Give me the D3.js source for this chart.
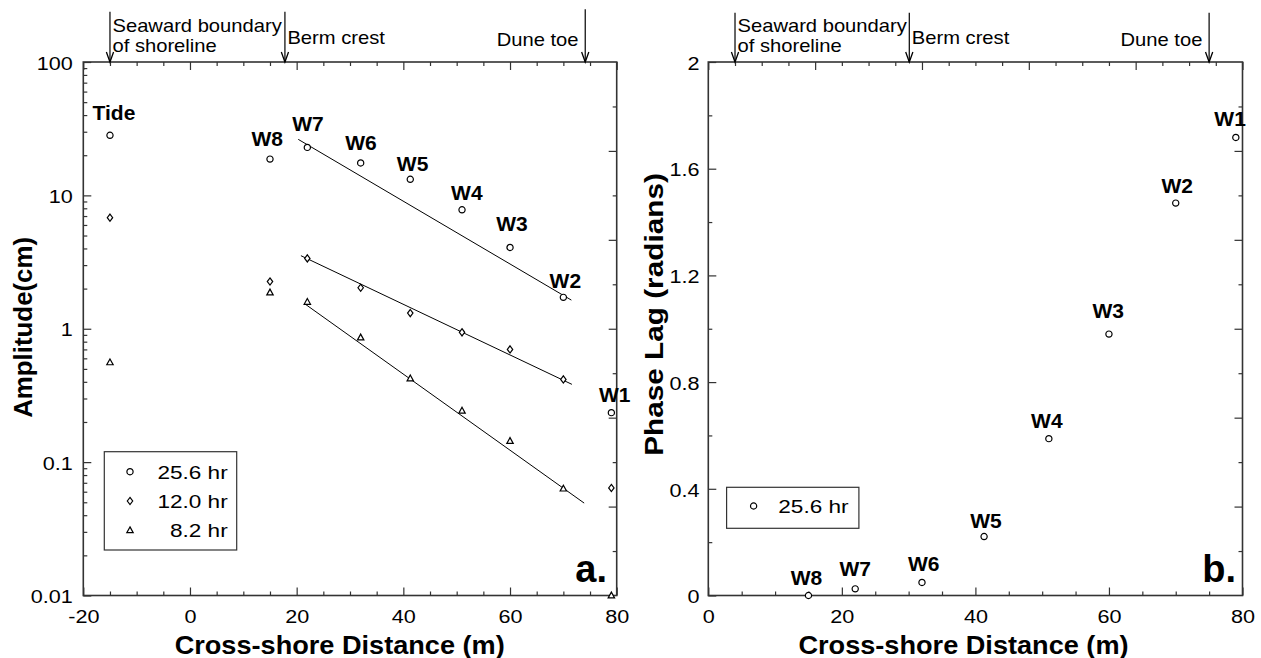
<!DOCTYPE html>
<html>
<head>
<meta charset="utf-8">
<script src="https://cdn.jsdelivr.net/npm/d3@7"></script>
<style>
  html, body { margin: 0; padding: 0; background: #fff; }
  svg { display: block; font-family: "Liberation Sans", Arial, Helvetica, sans-serif; }
</style>
</head>
<body>
<svg id="chart" width="1261" height="658"></svg>
<script>
// ---- Panel a: amplitude of the three tidal constituents at each well ----
const stations = ["Tide", "W8", "W7", "W6", "W5", "W4", "W3", "W2", "W1"];
const distance = [-15, 15, 22, 32, 41.3, 51, 60, 70, 79];
const amp256 = [28.2, 18.7, 22.9, 17.5, 13.2, 7.8, 4.07, 1.72, 0.235];
const amp120 = [6.8, 2.26, 3.37, 2.03, 1.31, 0.94, 0.70, 0.417, 0.064];
const amp82  = [0.56, 1.87, 1.59, 0.86, 0.424, 0.243, 0.144, 0.0633, 0.010];

// exponential-decay fits, as [distance, amplitude] end points
const fit256 = [[20.3, 26.3], [71.5, 1.64]];
const fit120 = [[20.8, 3.53], [71.6, 0.383]];
const fit82  = [[21.4, 1.55], [73.9, 0.0493]];

// ---- Panel b: phase lag of the 25.6 hr constituent ----
const phaseStations = ["W8", "W7", "W6", "W5", "W4", "W3", "W2", "W1"];
const phaseDistance = [15, 22, 32, 41.3, 51, 60, 70, 79];
const phaseLag = [0, 0.025, 0.049, 0.221, 0.588, 0.980, 1.471, 1.717];

// ---- tick labels and annotations ----
const ampTicks = [0.01, 0.1, 1, 10, 100];
const ampTickLabels = ["0.01", "0.1", "1", "10", "100"];
const distTicksA = [-20, 0, 20, 40, 60, 80];
const distTickLabelsA = ["-20", "0", "20", "40", "60", "80"];
const distTicksB = [0, 20, 40, 60, 80];
const distTickLabelsB = ["0", "20", "40", "60", "80"];
const phaseTicks = [0, 0.4, 0.8, 1.2, 1.6, 2];
const phaseTickLabels = ["0", "0.4", "0.8", "1.2", "1.6", "2"];
const legendLabels = ["25.6 hr", "12.0 hr", "8.2 hr"];
const landmarkNames = [["Seaward boundary", "of shoreline"], ["Berm crest"], ["Dune toe"]];
const landmarkA = [-15, 17.8, 74.1];
const landmarkB = [4, 30.1, 75];

// ---- layout ----
const A = { left: 83.3, right: 616.7, top: 62, bottom: 595.5 };
const B = { left: 708.3, right: 1242.5, top: 62, bottom: 595.5 };
// station label offsets (px) from each marker
const labelOffA = [[4, -15.4], [-2.7, -13], [0.6, -16.6], [0.3, -13.4], [2.3, -8.3], [4.8, -10], [1.9, -16.7], [2, -9.4], [3.3, -11]];
const labelOffB = [[-2, -11], [0, -12.6], [1.7, -11.3], [1.9, -8.7], [-2, -10.7], [-0.8, -16], [1.5, -10.6], [-5.7, -11]];

const INK = "#000";
const AXIS = "#333";

const svg = d3.select("#chart");

const xA = d3.scaleLinear([-20, 80], [A.left, A.right]);
const yA = d3.scaleLog([0.01, 100], [A.bottom, A.top]);
const xB = d3.scaleLinear([0, 80], [B.left, B.right]);
const yB = d3.scaleLinear([0, 2], [B.bottom, B.top]);

// widen text horizontally to the typeface proportions used in the figure
function stretch(sel, k) {
  sel.each(function () {
    const w = this.getComputedTextLength();
    this.setAttribute("textLength", (w * k).toFixed(2));
    this.setAttribute("lengthAdjust", "spacingAndGlyphs");
  });
}

const circlePath = d3.symbol(d3.symbolCircle, Math.PI * 3.1 * 3.1)();
const diamondPath = "M0,-3.6L2.7,0L0,3.6L-2.7,0Z";
const trianglePath = "M0,-3.4L3.2,2.4L-3.2,2.4Z";

function styleTicks(g) {
  g.select(".domain").remove();
  g.selectAll(".tick line").attr("stroke", AXIS).attr("stroke-width", 1.2);
}

function tickAxis(axis, tx, ty) {
  const g = svg.append("g").attr("transform", `translate(${tx},${ty})`).call(axis);
  styleTicks(g);
  return g;
}

// ---------- frame + ticks for one panel ----------
function drawFrame(P, x, y, opts) {
  // bottom: minor every 5, major every 20 with labels
  const bottomMinor = d3.range(x.domain()[0], x.domain()[1] + 0.1, 5).filter(v => v % 20 !== 0);
  tickAxis(d3.axisBottom(x).tickValues(bottomMinor).tickSize(-4).tickFormat(""), 0, P.bottom);
  const bMaj = tickAxis(d3.axisBottom(x).tickValues(opts.xTicks)
      .tickFormat((d, i) => opts.xLabels[i]).tickSize(-8).tickPadding(15), 0, P.bottom);
  bMaj.selectAll("text").attr("font-size", 18).attr("fill", INK)
      .attr("font-family", "Liberation Sans, Arial, sans-serif").call(stretch, 1.2);

  // top: ticks only
  const topMinor = d3.range(x.domain()[0], x.domain()[1] + 0.1, opts.topStep).filter(v => v % opts.topMajor !== 0);
  const topMajor = d3.range(x.domain()[0], x.domain()[1] + 0.1, opts.topStep).filter(v => v % opts.topMajor === 0);
  tickAxis(d3.axisTop(x).tickValues(topMinor).tickSize(-4).tickFormat(""), 0, P.top);
  tickAxis(d3.axisTop(x).tickValues(topMajor).tickSize(-8).tickFormat(""), 0, P.top);

  // left: minor + labelled majors
  tickAxis(d3.axisLeft(y).tickValues(opts.yMinor).tickSize(-4).tickFormat(""), P.left, 0);
  const lMaj = tickAxis(d3.axisLeft(y).tickValues(opts.yTicks)
      .tickFormat((d, i) => opts.yLabels[i]).tickSize(-8).tickPadding(opts.yPad), P.left, 0);
  lMaj.selectAll("text").attr("font-size", 18).attr("fill", INK).attr("dy", "0.4em")
      .attr("font-family", "Liberation Sans, Arial, sans-serif").call(stretch, 1.2);

  // right: twelve even divisions, alternating short/long
  const r = d3.scaleLinear([0, 12], [P.bottom, P.top]);
  tickAxis(d3.axisRight(r).tickValues([1, 3, 5, 7, 9, 11]).tickSize(-4).tickFormat(""), P.right, 0);
  tickAxis(d3.axisRight(r).tickValues([2, 4, 6, 8, 10]).tickSize(-8).tickFormat(""), P.right, 0);

  svg.append("rect")
    .attr("x", P.left).attr("y", P.top)
    .attr("width", P.right - P.left).attr("height", P.bottom - P.top)
    .attr("fill", "none").attr("stroke", AXIS).attr("stroke-width", 1.6);
}

drawFrame(A, xA, yA, {
  xTicks: distTicksA, xLabels: distTickLabelsA, topStep: 5, topMajor: 20,
  yTicks: ampTicks, yLabels: ampTickLabels, yPad: 10.5,
  yMinor: yA.ticks().filter(v => !ampTicks.some(t => Math.abs(t - v) / t < 1e-6))
});
drawFrame(B, xB, yB, {
  xTicks: distTicksB, xLabels: distTickLabelsB, topStep: 4, topMajor: 16,
  yTicks: phaseTicks, yLabels: phaseTickLabels, yPad: 8.7,
  yMinor: [0.2, 0.6, 1.0, 1.4, 1.8]
});

// ---------- landmark arrows above each panel ----------
function drawLandmarks(P, x, positions, tops) {
  positions.forEach((v, i) => {
    const px = x(v);
    const g = svg.append("g");
    g.append("line").attr("x1", px).attr("x2", px).attr("y1", tops[i]).attr("y2", P.top)
      .attr("stroke", INK).attr("stroke-width", 1.2);
    g.append("path").attr("d", `M${px - 3.6},${P.top - 10}L${px},${P.top}L${px + 3.6},${P.top - 10}`)
      .attr("fill", "none").attr("stroke", INK).attr("stroke-width", 1.3);
    const lines = landmarkNames[i];
    const anchorEnd = i === 2;
    const baseY = lines.length > 1 ? [31.7, 51.7] : [anchorEnd ? 46 : 44];
    lines.forEach((t, j) => {
      g.append("text")
        .attr("x", anchorEnd ? px - 6.7 : px + 2.5)
        .attr("y", baseY[j])
        .attr("text-anchor", anchorEnd ? "end" : "start")
        .attr("font-size", 18.5).attr("fill", INK)
        .text(t).call(stretch, 1.09);
    });
  });
}
drawLandmarks(A, xA, landmarkA, [11.7, 11.7, 9.3]);
drawLandmarks(B, xB, landmarkB, [12.7, 12.7, 12.7]);

// ---------- panel a marks ----------
const gA = svg.append("g");
const fitLine = d3.line().x(d => xA(d[0])).y(d => yA(d[1]));
[fit256, fit120, fit82].forEach(f => {
  gA.append("path").attr("d", fitLine(f)).attr("fill", "none")
    .attr("stroke", INK).attr("stroke-width", 1);
});

function drawSeries(g, x, y, xs, ys, path) {
  g.selectAll(null).data(xs).join("path")
    .attr("d", path)
    .attr("transform", (d, i) => `translate(${x(d)},${y(ys[i])})`)
    .attr("fill", "#fff").attr("stroke", INK).attr("stroke-width", 1.2);
}
drawSeries(gA, xA, yA, distance, amp82, trianglePath);
drawSeries(gA, xA, yA, distance, amp120, diamondPath);
drawSeries(gA, xA, yA, distance, amp256, circlePath);

gA.selectAll(null).data(stations).join("text")
  .attr("x", (d, i) => xA(distance[i]) + labelOffA[i][0])
  .attr("y", (d, i) => yA(amp256[i]) + labelOffA[i][1])
  .attr("text-anchor", "middle").attr("font-size", 20).attr("font-weight", "bold")
  .attr("fill", INK).text(d => d).call(stretch, 1.05);

// ---------- panel b marks ----------
const gB = svg.append("g");
drawSeries(gB, xB, yB, phaseDistance, phaseLag, circlePath);
gB.selectAll(null).data(phaseStations).join("text")
  .attr("x", (d, i) => xB(phaseDistance[i]) + labelOffB[i][0])
  .attr("y", (d, i) => yB(phaseLag[i]) + labelOffB[i][1])
  .attr("text-anchor", "middle").attr("font-size", 20).attr("font-weight", "bold")
  .attr("fill", INK).text(d => d).call(stretch, 1.05);

// ---------- legends ----------
function drawLegend(box, labels, paths) {
  const g = svg.append("g");
  g.append("rect").attr("x", box.x).attr("y", box.y).attr("width", box.w).attr("height", box.h)
    .attr("fill", "#fff").attr("stroke", AXIS).attr("stroke-width", 1.2);
  labels.forEach((t, i) => {
    const cy = box.y + box.first + i * 29.3;
    g.append("path").attr("d", paths[i]).attr("transform", `translate(${box.x + box.sym},${cy})`)
      .attr("fill", "#fff").attr("stroke", INK).attr("stroke-width", 1.2);
    g.append("text").attr("x", box.x + box.w - box.pad).attr("y", cy + 6.8)
      .attr("text-anchor", "end").attr("font-size", 18.5).attr("fill", INK)
      .text(t).call(stretch, 1.22);
  });
}
drawLegend({ x: 104.3, y: 451.7, w: 132.4, h: 98.3, first: 20, sym: 25.7, pad: 9 },
  legendLabels, [circlePath, diamondPath, trianglePath]);
drawLegend({ x: 726.6, y: 487.3, w: 132.3, h: 41, first: 18.7, sym: 27, pad: 10.3 },
  legendLabels.slice(0, 1), [circlePath]);

// ---------- panel tags ----------
svg.append("text").attr("x", 607).attr("y", 581.7).attr("text-anchor", "end")
  .attr("font-size", 38).attr("font-weight", "bold").attr("fill", INK).text("a.");
svg.append("text").attr("x", 1236).attr("y", 581.7).attr("text-anchor", "end")
  .attr("font-size", 38).attr("font-weight", "bold").attr("fill", INK).text("b.");

// ---------- axis titles ----------
svg.append("text").attr("x", 339.7).attr("y", 654).attr("text-anchor", "middle")
  .attr("font-size", 25).attr("font-weight", "bold").attr("fill", INK)
  .text("Cross-shore Distance (m)").call(stretch, 1.085);
svg.append("text").attr("x", 963.5).attr("y", 654).attr("text-anchor", "middle")
  .attr("font-size", 25).attr("font-weight", "bold").attr("fill", INK)
  .text("Cross-shore Distance (m)").call(stretch, 1.085);
svg.append("text").attr("transform", "translate(31.7,327.4) rotate(-90)")
  .attr("text-anchor", "middle").attr("font-size", 25).attr("font-weight", "bold").attr("fill", INK)
  .text("Amplitude(cm)").call(stretch, 1.034);
svg.append("text").attr("transform", "translate(662.7,314.5) rotate(-90)")
  .attr("text-anchor", "middle").attr("font-size", 25).attr("font-weight", "bold").attr("fill", INK)
  .text("Phase Lag (radians)").call(stretch, 1.19);
</script>
</body>
</html>
